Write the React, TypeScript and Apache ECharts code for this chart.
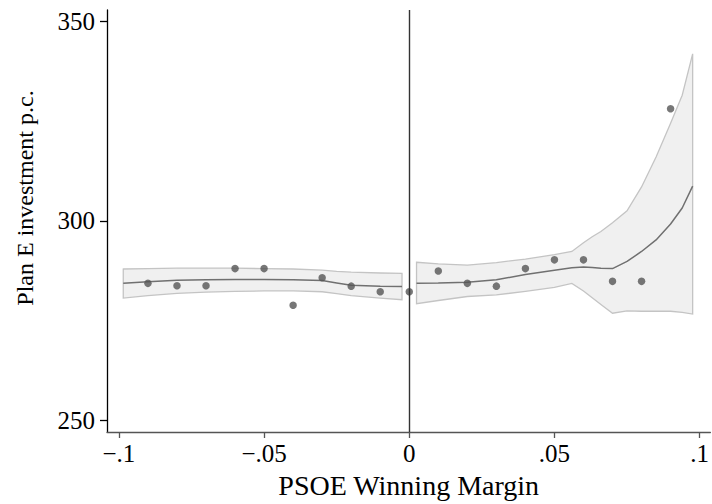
import React, { useEffect, useRef } from "react";
import * as echarts from "echarts";

// Binned means (scatter)
const binX = [-0.09, -0.08, -0.07, -0.06, -0.05, -0.04, -0.03, -0.02, -0.01, 0, 0.01, 0.02, 0.03, 0.04, 0.05, 0.06, 0.07, 0.08, 0.09];
const binY = [284.3, 283.7, 283.7, 288.0, 288.0, 278.8, 285.7, 283.6, 282.2, 282.2, 287.4, 284.3, 283.6, 288.0, 290.2, 290.2, 284.8, 284.8, 328.1];

// Left-side fit and confidence band
const leftX = [-0.0985, -0.09, -0.08, -0.07, -0.06, -0.05, -0.04, -0.03, -0.025, -0.02, -0.01, -0.0025];
const leftFit = [284.3, 284.7, 285.1, 285.2, 285.3, 285.3, 285.2, 285.0, 284.4, 283.8, 283.6, 283.5];
const leftUp = [287.9, 288.0, 288.1, 288.1, 288.1, 288.0, 287.9, 287.6, 287.3, 287.1, 286.9, 286.8];
const leftLo = [280.6, 281.2, 281.8, 282.1, 282.3, 282.4, 282.4, 282.2, 281.7, 281.2, 280.6, 280.2];

// Right-side fit and confidence band
const rightX = [0.0025, 0.01, 0.02, 0.03, 0.04, 0.05, 0.056, 0.06, 0.063, 0.066, 0.07, 0.075, 0.08, 0.085, 0.09, 0.094, 0.0976];
const rightFit = [284.3, 284.4, 284.6, 285.2, 286.5, 287.6, 288.2, 288.4, 288.3, 288.1, 288.0, 289.8, 292.3, 295.2, 299.2, 303.2, 308.7];
const rightUp = [289.6, 289.2, 288.9, 289.5, 290.4, 291.5, 292.3, 294.5, 296.0, 297.3, 299.5, 302.5, 308.5, 316.0, 324.5, 331.5, 341.9];
const rightLo = [279.2, 280.0, 281.0, 281.4, 282.3, 283.3, 284.3, 282.4, 280.7, 279.0, 276.8, 277.4, 277.3, 277.3, 277.3, 277.0, 276.6];

// Axis ticks
const xTickValues = [-0.1, -0.05, 0, 0.05, 0.1];
const xTickLabels = ["\u2212.1", "\u2212.05", "0", ".05", ".1"];
const yTickValues = [250, 300, 350];
const yTickLabels = ["250", "300", "350"];

const FONT = "'Liberation Serif', 'Times New Roman', serif";

function bandPolygon(xs: number[], up: number[], lo: number[]): number[][] {
  const pts: number[][] = [];
  for (let i = 0; i < xs.length; i++) pts.push([xs[i], up[i]]);
  for (let i = xs.length - 1; i >= 0; i--) pts.push([xs[i], lo[i]]);
  return pts;
}

export default function App() {
  const ref = useRef<HTMLDivElement>(null);
  useEffect(() => {
    if (!ref.current) return;
    const chart = echarts.init(ref.current, null, { renderer: "svg" });
    const bands = [bandPolygon(leftX, leftUp, leftLo), bandPolygon(rightX, rightUp, rightLo)];
    chart.setOption({
      animation: false,
      backgroundColor: "#ffffff",
      grid: { left: 107, right: 0, top: 10, bottom: 63, containLabel: false },
      xAxis: {
        type: "value",
        min: -0.1041,
        max: 0.1037,
        name: "PSOE Winning Margin",
        nameLocation: "middle",
        nameGap: 39,
        nameTextStyle: { fontFamily: FONT, fontSize: 28, color: "#000" },
        axisLine: { show: true, onZero: false, lineStyle: { color: "#555", width: 1.3 } },
        axisTick: { show: true, customValues: xTickValues, length: 6, lineStyle: { color: "#555", width: 1.3 } },
        axisLabel: {
          customValues: xTickValues,
          fontFamily: FONT,
          fontSize: 25,
          color: "#000",
          margin: 9,
          formatter: (v: number) => {
            const i = xTickValues.findIndex((t) => Math.abs(t - v) < 1e-9);
            return i >= 0 ? xTickLabels[i] : "";
          },
        },
        splitLine: { show: false },
      },
      yAxis: {
        type: "value",
        min: 247,
        max: 352.9,
        name: "Plan E investment p.c.",
        nameLocation: "middle",
        nameGap: 70,
        nameRotate: 90,
        nameTextStyle: { fontFamily: FONT, fontSize: 24, color: "#000", padding: [0, 0, 0, 46] },
        axisLine: { show: true, onZero: false, lineStyle: { color: "#000", width: 1.3 } },
        axisTick: { show: true, customValues: yTickValues, length: 7, lineStyle: { color: "#000", width: 1.3 } },
        axisLabel: {
          customValues: yTickValues,
          fontFamily: FONT,
          fontSize: 25,
          color: "#000",
          margin: 12,
          formatter: (v: number) => {
            const i = yTickValues.findIndex((t) => Math.abs(t - v) < 1e-9);
            return i >= 0 ? yTickLabels[i] : "";
          },
        },
        splitLine: { show: false },
      },
      series: [
        {
          type: "custom",
          name: "band",
          data: bands.map((_, i) => i),
          renderItem: (params: any, api: any) => {
            const idx = api.value(0);
            const poly = bands[idx].map((p) => api.coord(p));
            return {
              type: "polygon",
              shape: { points: poly },
              style: { fill: "#f0f0f0", stroke: "#c4c4c4", lineWidth: 1.3 },
            };
          },
          encode: { x: 0 },
          silent: true,
          z: 1,
        },
        {
          type: "line",
          data: leftX.map((x, i) => [x, leftFit[i]]),
          showSymbol: false,
          lineStyle: { color: "#707070", width: 1.5 },
          z: 2,
          markLine: {
            silent: true,
            symbol: ["none", "none"],
            label: { show: false },
            lineStyle: { color: "#333", width: 1.4, type: "solid" },
            data: [{ xAxis: 0 }],
          },
        },
        {
          type: "line",
          data: rightX.map((x, i) => [x, rightFit[i]]),
          showSymbol: false,
          lineStyle: { color: "#707070", width: 1.5 },
          z: 2,
        },
        {
          type: "scatter",
          data: binX.map((x, i) => [x, binY[i]]),
          symbolSize: 7.5,
          itemStyle: { color: "#555555" },
          z: 3,
        },
      ],
    });
    return () => chart.dispose();
  }, []);
  return (
    <div
      ref={ref}
      style={{ position: "fixed", left: 0, top: 0, width: 712, height: 504, background: "#fff" }}
    />
  );
}
